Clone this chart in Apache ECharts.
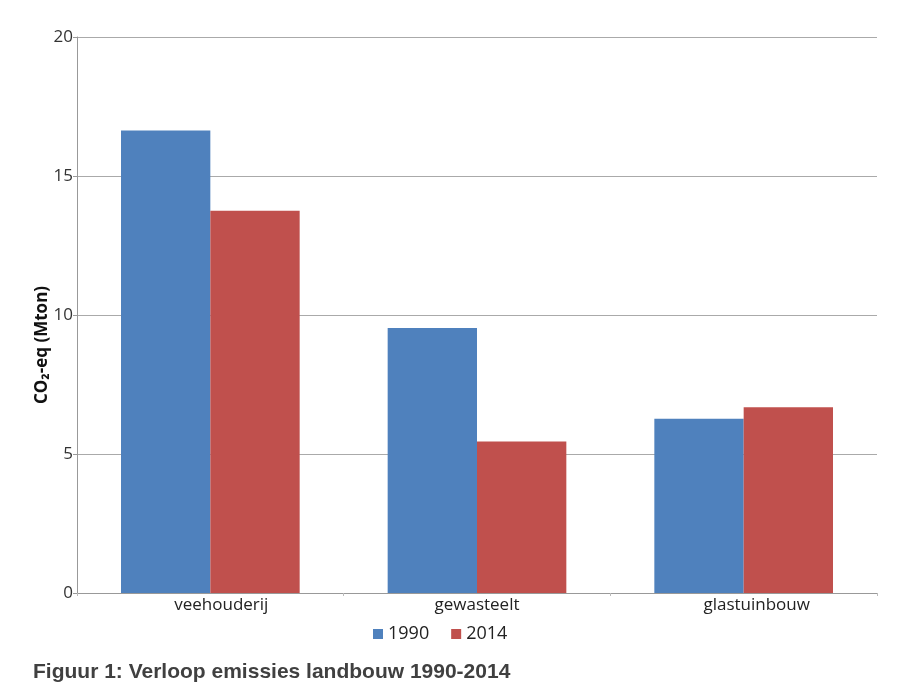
<!DOCTYPE html>
<html>
<head>
<meta charset="utf-8">
<script src="https://cdn.jsdelivr.net/npm/echarts@6/dist/echarts.min.js"></script>
<style>
html,body{margin:0;padding:0;background:#fff;}
#main{width:916px;height:696px;}
</style>
</head>
<body>
<div id="main"></div>
<script>
var categories = ['veehouderij', 'gewasteelt', 'glastuinbouw'];
var series1990 = [16.64, 9.53, 6.27];
var series2014 = [13.75, 5.45, 6.68];
var seriesNames = ['1990', '2014'];

var labelStyleKeys = ['a', 'b', 'c'];

var chart = echarts.init(document.getElementById('main'));
chart.setOption({
  backgroundColor: '#ffffff',
  animation: false,
  grid: { left: 77, right: 39, top: 37, bottom: 103 },
  legend: {
    data: seriesNames,
    top: 620,
    left: 368,
    itemWidth: 10,
    itemHeight: 10,
    itemGap: 22,
    icon: 'rect',
    textStyle: { fontFamily: 'Open Sans', fontSize: 18, color: '#222' }
  },
  xAxis: {
    type: 'category',
    data: categories,
    axisLine: { lineStyle: { color: '#999' } },
    axisTick: { show: true, alignWithLabel: false, length: 3, lineStyle: { color: '#bbb' } },
    axisLabel: {
      fontFamily: 'Open Sans', fontSize: 17, color: '#222', margin: 4,
      formatter: function (v, i) { return '{' + labelStyleKeys[i] + '|' + v + '}'; },
      rich: {
        a: { fontFamily: 'Open Sans', fontSize: 17, color: '#222', padding: [0, 0, 0, 22] },
        b: { fontFamily: 'Open Sans', fontSize: 17, color: '#222' },
        c: { fontFamily: 'Open Sans', fontSize: 17, color: '#222', padding: [0, 0, 0, 26] }
      }
    }
  },
  yAxis: {
    type: 'value',
    min: 0, max: 20, interval: 5,
    axisLine: { show: true, lineStyle: { color: '#999' } },
    axisTick: { show: true, length: 4, lineStyle: { color: '#999' } },
    splitLine: { lineStyle: { color: '#aaa' } },
    axisLabel: { fontFamily: 'Open Sans', fontSize: 17, color: '#333', margin: 4 }
  },
  graphic: [
    {
      type: 'text',
      left: 33, top: 662,
      style: { text: 'Figuur 1: Verloop emissies landbouw 1990-2014', font: 'bold 21px "Liberation Sans", Arial, sans-serif', fill: '#404040' }
    },
    {
      type: 'text',
      x: 42, y: 345,
      rotation: Math.PI / 2,
      style: { text: 'CO\u2082-eq (Mton)', font: 'bold 17px "Open Sans", sans-serif', fill: '#111', align: 'center', verticalAlign: 'middle' }
    }
  ],
  series: [
    { name: seriesNames[0], type: 'bar', data: series1990, barGap: '0%', barCategoryGap: '33%', itemStyle: { color: '#4F81BD' } },
    { name: seriesNames[1], type: 'bar', data: series2014, itemStyle: { color: '#C0504D' } }
  ]
});
</script>
</body>
</html>
